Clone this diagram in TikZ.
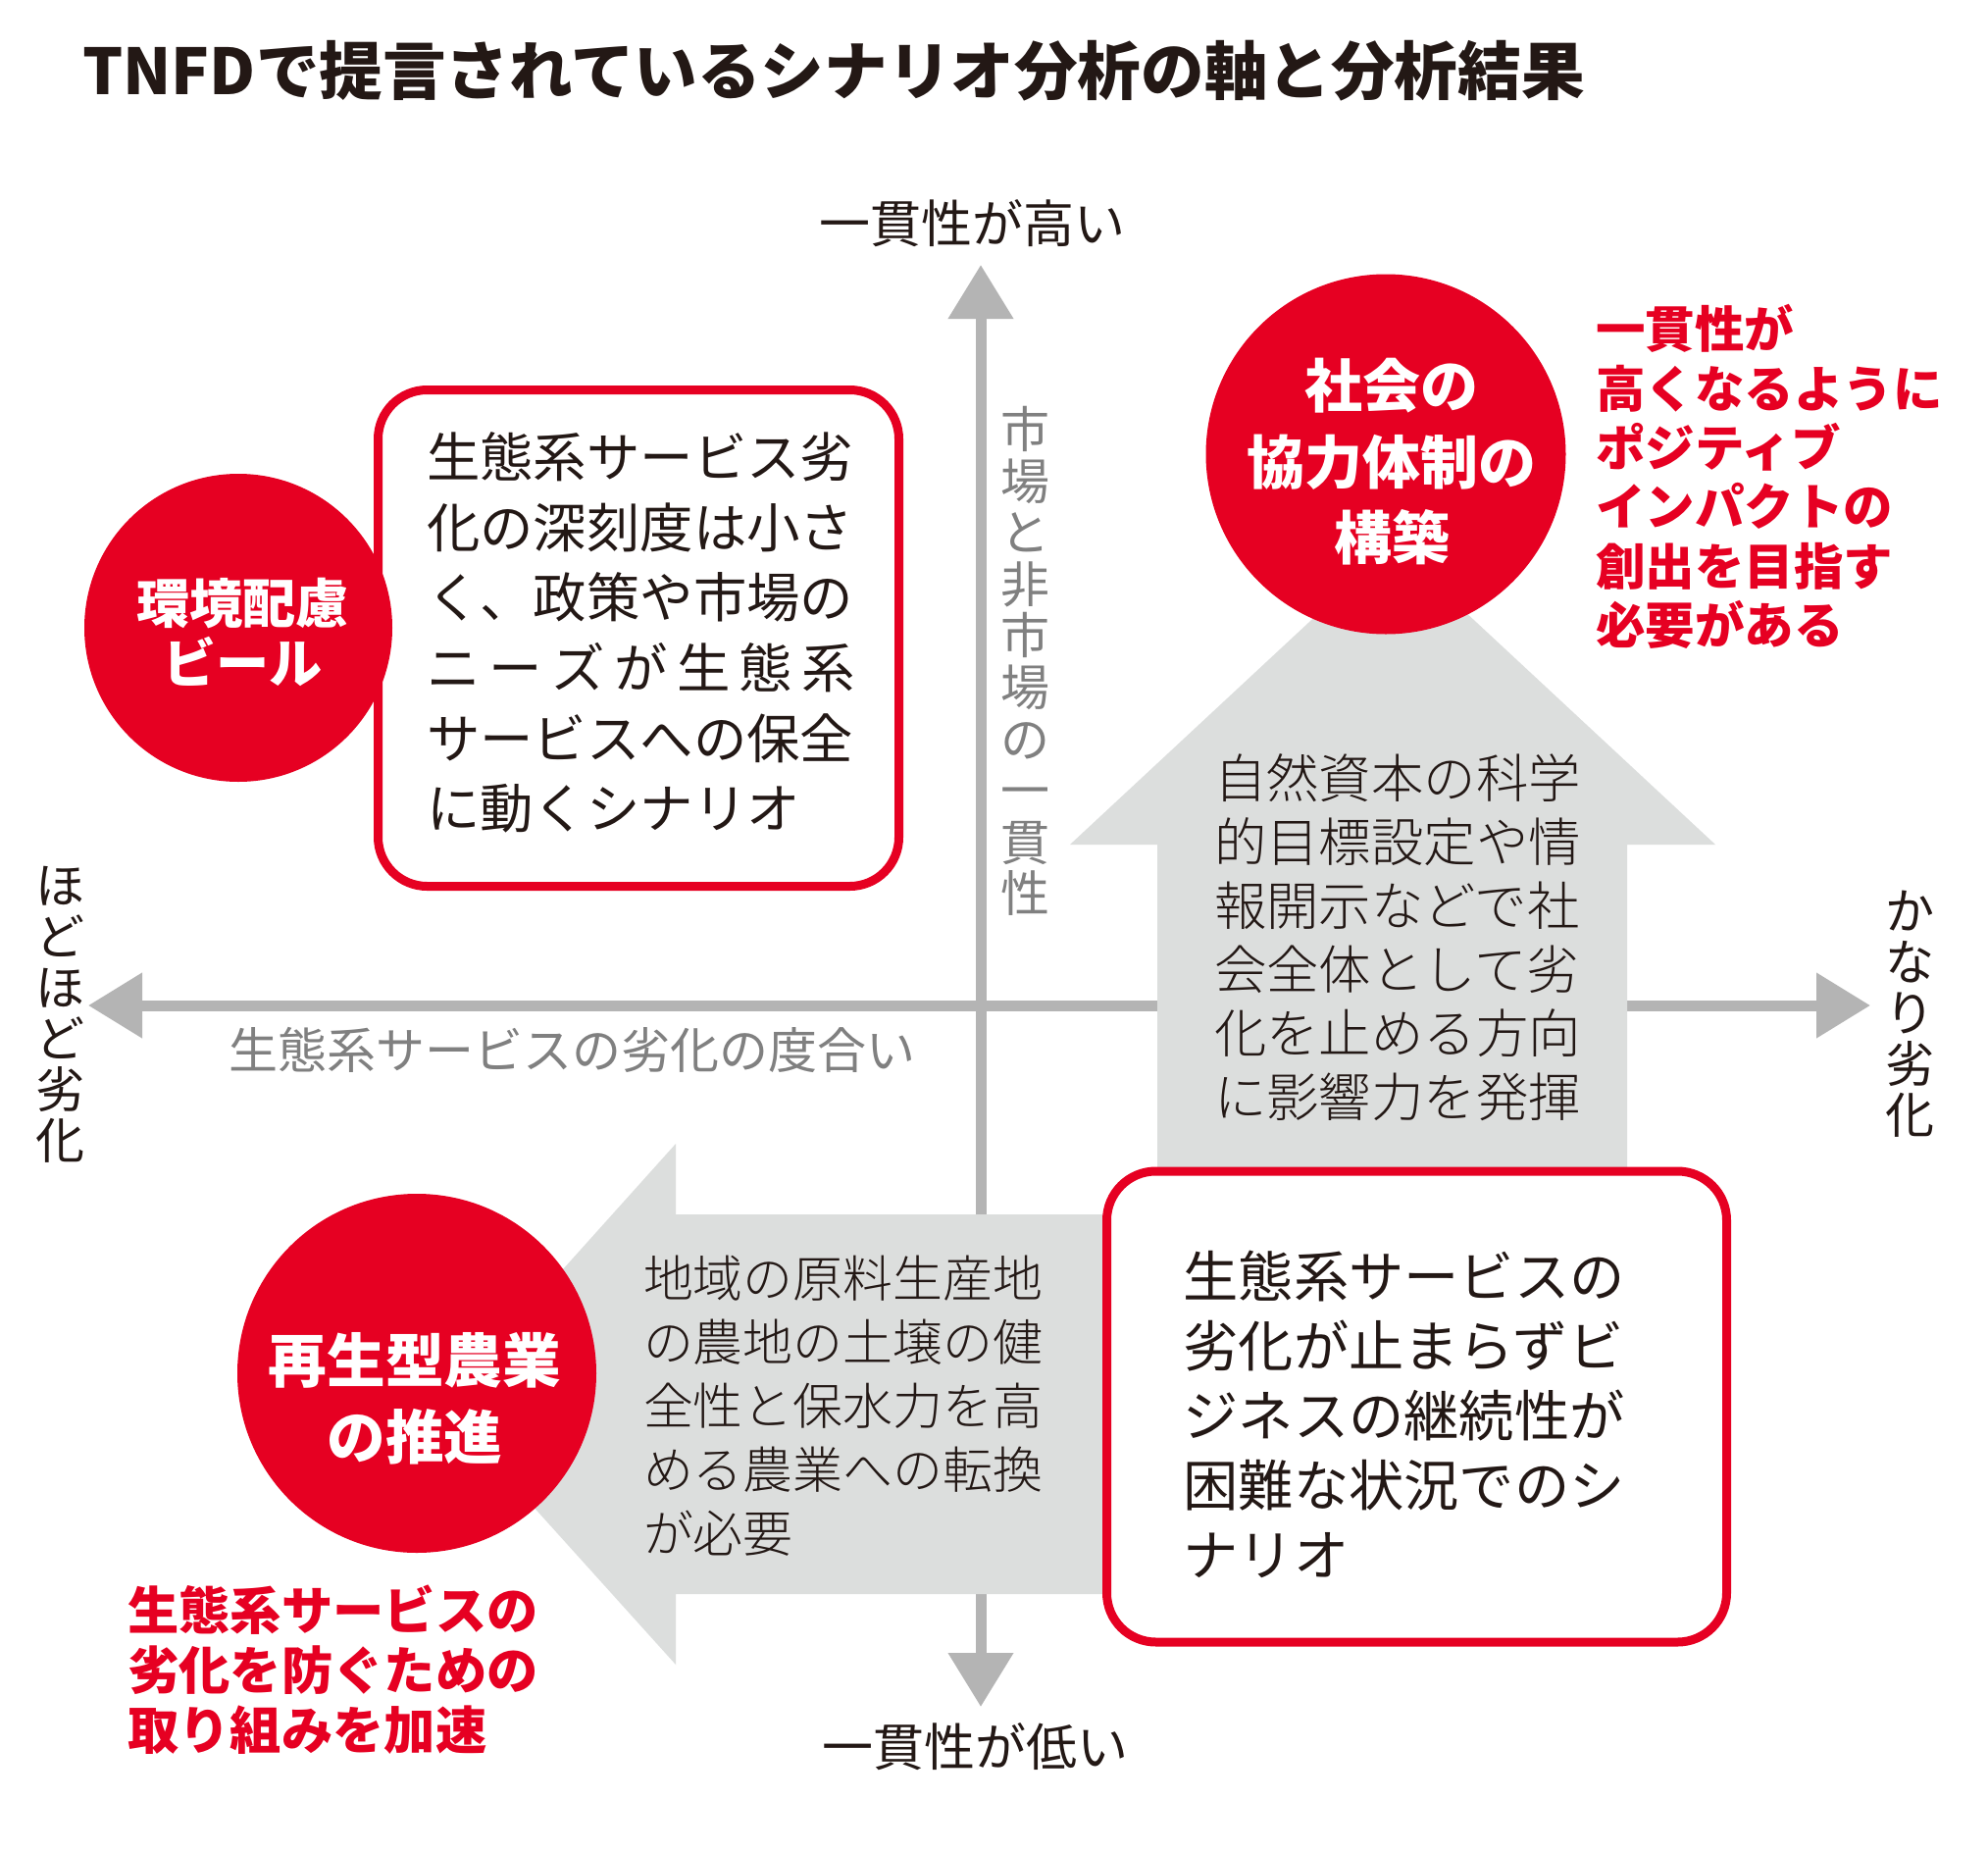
\documentclass[tikz,border=0pt]{standalone}
\usepackage{fontspec}
\setmainfont{Noto Sans CJK JP}
\newfontfamily\thinfont{Noto Sans CJK JP Light}
\usepackage{xcolor}
\usepackage{tikz}
\usetikzlibrary{arrows.meta}
\definecolor{tnfd_red}{RGB}{230, 0, 34}
\definecolor{tnfd_ink}{RGB}{35, 24, 21}
\definecolor{tnfd_axis}{RGB}{180, 180, 180}
\definecolor{tnfd_label}{RGB}{128, 128, 128}
\definecolor{tnfd_arrow}{RGB}{220, 222, 221}
\tikzset{axistip/.tip={Triangle[length=55pt, width=64pt]}}

\begin{document}
\begin{tikzpicture}[x=1pt, y=-1pt,
        every node/.style={inner sep=0pt},
        axisline/.style={draw=tnfd_axis, line width=11pt, axistip-axistip},
        axislabel/.style={text=tnfd_ink, align=center, font=\fontsize{52}{52.5}\selectfont},
        scenario/.style={draw=tnfd_red, line width=9pt, rounded corners=50pt, fill=white},
        scenariotext/.style={text=tnfd_ink, align=left},
        pathtext/.style={text=tnfd_ink, align=left},
        action/.style={circle, fill=tnfd_red},
        actiontext/.style={text=white, align=center},
        advice/.style={text=tnfd_red, align=left, anchor=west}]
        \fill[white] (0,0) rectangle (2027,1887);
        \useasboundingbox (0,0) rectangle (2027,1887);

        \node[anchor=west, text=tnfd_ink, font=\bfseries\fontsize{64.6}{64.6}\selectfont] (title) at (84,72)
          {TNFDで提言されているシナリオ分析の軸と分析結果};

        \coordinate (axis_w) at (90,1025);
        \coordinate (axis_e) at (1907,1025);
        \coordinate (axis_n) at (1000,270);
        \coordinate (axis_s) at (1000,1740);
        \draw[axisline] (axis_w) -- (axis_e);
        \draw[axisline] (axis_s) -- (axis_n);

        \fill[tnfd_arrow] (1180,1250) -- (1180,861) -- (1091,861) -- (1420,555)
          -- (1749,861) -- (1659,861) -- (1659,1250) -- cycle;
        \fill[tnfd_arrow] (1200,1238) -- (689,1238) -- (689,1166) -- (450,1432)
          -- (689,1697) -- (689,1625) -- (1200,1625) -- cycle;

        \node[axislabel] (high) at (991,228) {一貫性が高い};
        \node[axislabel] (low) at (994,1781) {一貫性が低い};
        \node[axislabel, font=\fontsize{50}{52}\selectfont] (mild) at (61,1034)
          {ほ\\ど\\ほ\\ど\\劣\\化};
        \node[axislabel, font=\fontsize{50}{52}\selectfont] (severe) at (1947,1034)
          {か\\な\\り\\劣\\化};
        \node[axislabel, text=tnfd_label, font=\fontsize{50}{52.6}\selectfont] (consistency) at (1045,674)
          {市\\場\\と\\非\\市\\場\\の\\一\\貫\\性};
        \node[axislabel, text=tnfd_label, font=\fontsize{50}{50}\selectfont] (degradation) at (583,1070)
          {生態系サービスの劣化の度合い};

        \node[scenario, minimum width=531pt, minimum height=506pt] (scen_nw) at (651,650.5) {};
        \node[scenariotext, text width=437pt, font=\fontsize{54.4}{71.6}\selectfont] (scen_nw_text) at (653.5,645)
          {生態系サービス劣\\化の深刻度は小さ\\く、政策や市場の\\ニ\hfill ー\hfill ズ\hfill が\hfill 生\hfill 態\hfill 系\\サービスへの保全\\に動くシナリオ};
        \node[scenario, minimum width=632pt, minimum height=480pt] (scen_se) at (1444.5,1434) {};
        \node[scenariotext, text width=451pt, font=\fontsize{56.25}{71}\selectfont] (scen_se_text) at (1432,1442)
          {生態系サービスの\\劣化が止まらずビ\\ジネスの継続性が\\困難な状況でのシ\\ナリオ};

        \node[pathtext, text width=374pt, font=\thinfont\fontsize{53.4}{65}\selectfont] (up_text) at (1425,955.5)
          {自然資本の科学\\的目標設定や情\\報開示などで社\\会全体として劣\\化を止める方向\\に影響力を発揮};
        \node[pathtext, text width=408pt, font=\thinfont\fontsize{50.9}{65}\selectfont] (left_text) at (860,1433)
          {地域の原料生産地\\の農地の土壌の健\\全性と保水力を高\\める農業への転換\\が必要};

        \node[action, minimum size=314pt] (beer) at (243,640) {};
        \node[actiontext, font=\bfseries\fontsize{54.2}{61}\selectfont] (beer_text) at (247.5,644.5)
          {環境配慮\\ビール};
        \node[action, minimum size=367pt] (coop) at (1413,463) {};
        \node[actiontext, font=\bfseries\fontsize{59}{77.5}\selectfont] (coop_text) at (1419,471)
          {社会の\\協力体制の\\構築};
        \node[action, minimum size=366pt] (regen) at (425,1400) {};
        \node[actiontext, font=\bfseries\fontsize{59.7}{78}\selectfont] (regen_text) at (423,1426)
          {再生型農業\\の推進};

        \node[advice, text width=360pt, font=\bfseries\fontsize{50.5}{60.4}\selectfont] (coop_note) at (1627,486)
          {一貫性が\\高くなるように\\ポジティブ\\インパクトの\\創出を目指す\\必要がある};
        \node[advice, text width=425pt, font=\bfseries\fontsize{52.3}{61}\selectfont] (regen_note) at (130,1702)
          {生態系サービスの\\劣化を防ぐための\\取り組みを加速};
      \end{tikzpicture}
\end{document}
